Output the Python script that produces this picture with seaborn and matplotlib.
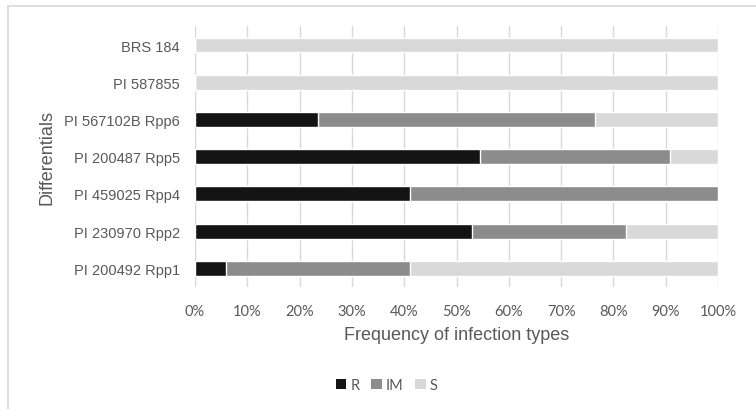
import matplotlib
matplotlib.use("Agg")
import matplotlib.pyplot as plt
import seaborn as sns
import pandas as pd
import numpy as np
from matplotlib.patches import Patch
from matplotlib.lines import Line2D
from matplotlib.ticker import PercentFormatter

differentials = ["BRS 184", "PI 587855", "PI 567102B Rpp6", "PI 200487 Rpp5",
                 "PI 459025 Rpp4", "PI 230970 Rpp2", "PI 200492 Rpp1"]
R = [0.0, 0.0, 23.53, 54.55, 41.18, 52.94, 5.88]
IM = [0.0, 0.0, 52.94, 36.36, 58.82, 29.41, 35.29]
S = [100.0, 100.0, 23.53, 9.09, 0.0, 17.65, 58.82]
series_names = ["R", "IM", "S"]
colors = {"R": "#141414", "IM": "#8c8c8c", "S": "#d9d9d9"}
xticks = list(range(0, 101, 10))

sns.set_theme(style="white")
plt.rcParams["font.family"] = ["Liberation Sans", "DejaVu Sans"]

df = pd.DataFrame({"Differential": differentials, "R": R, "IM": IM, "S": S})
df["R_IM"] = df["R"] + df["IM"]
df["Total"] = df["R_IM"] + df["S"]

fig = plt.figure(figsize=(7.56, 4.10), dpi=100)
ax = fig.add_axes([195 / 756, 1 - 288 / 410, (718 - 195) / 756, (288 - 27.4) / 410])

text_color = "#595959"
sns.barplot(data=df, y="Differential", x="Total", color=colors["S"], width=0.4,
            orient="h", ax=ax, saturation=1, order=differentials, zorder=2)
sns.barplot(data=df, y="Differential", x="R_IM", color=colors["IM"], width=0.4,
            orient="h", ax=ax, saturation=1, order=differentials, zorder=3)
sns.barplot(data=df, y="Differential", x="R", color=colors["R"], width=0.4,
            orient="h", ax=ax, saturation=1, order=differentials, zorder=4)

ax.set_xlim(0, 100)
ax.set_xticks(xticks)
ax.xaxis.set_major_formatter(PercentFormatter(decimals=0))
ax.grid(axis="x", color="#d9d9d9", linewidth=1, zorder=0)
ax.set_axisbelow(True)
for s in ax.spines.values():
    s.set_visible(False)
ax.tick_params(axis="both", length=0)
ax.tick_params(axis="x", pad=12, labelsize=10.5, labelcolor=text_color)
ax.tick_params(axis="y", pad=11, labelsize=10.5, labelcolor=text_color)
for lbl in ax.get_xticklabels():
    lbl.set_fontfamily(["Lato", "DejaVu Sans"])
ax.set_xlabel("Frequency of infection types", fontsize=13, color=text_color, labelpad=6)
ax.set_ylabel("Differentials", fontsize=13, color=text_color, labelpad=6)

handles = [Patch(facecolor=colors[n], edgecolor="none", label=n) for n in series_names]
leg = fig.legend(handles=handles, loc="center", bbox_to_anchor=(387 / 756, 1 - 386 / 410),
                 ncol=3, frameon=False, fontsize=10.5, handlelength=0.7, handleheight=0.7,
                 handletextpad=0.3, columnspacing=0.8,
                 prop={"family": ["Lato", "DejaVu Sans"], "size": 10.5})
for t in leg.get_texts():
    t.set_color(text_color)

fig.add_artist(Line2D([8 / 756, 1], [1 - 7 / 410, 1 - 7 / 410], color="#d9d9d9", lw=1.2,
                      transform=fig.transFigure))
fig.add_artist(Line2D([8 / 756, 8 / 756], [0, 1 - 7 / 410], color="#d9d9d9", lw=1.2,
                      transform=fig.transFigure))

fig.savefig("out.png", dpi=100, facecolor="white")
